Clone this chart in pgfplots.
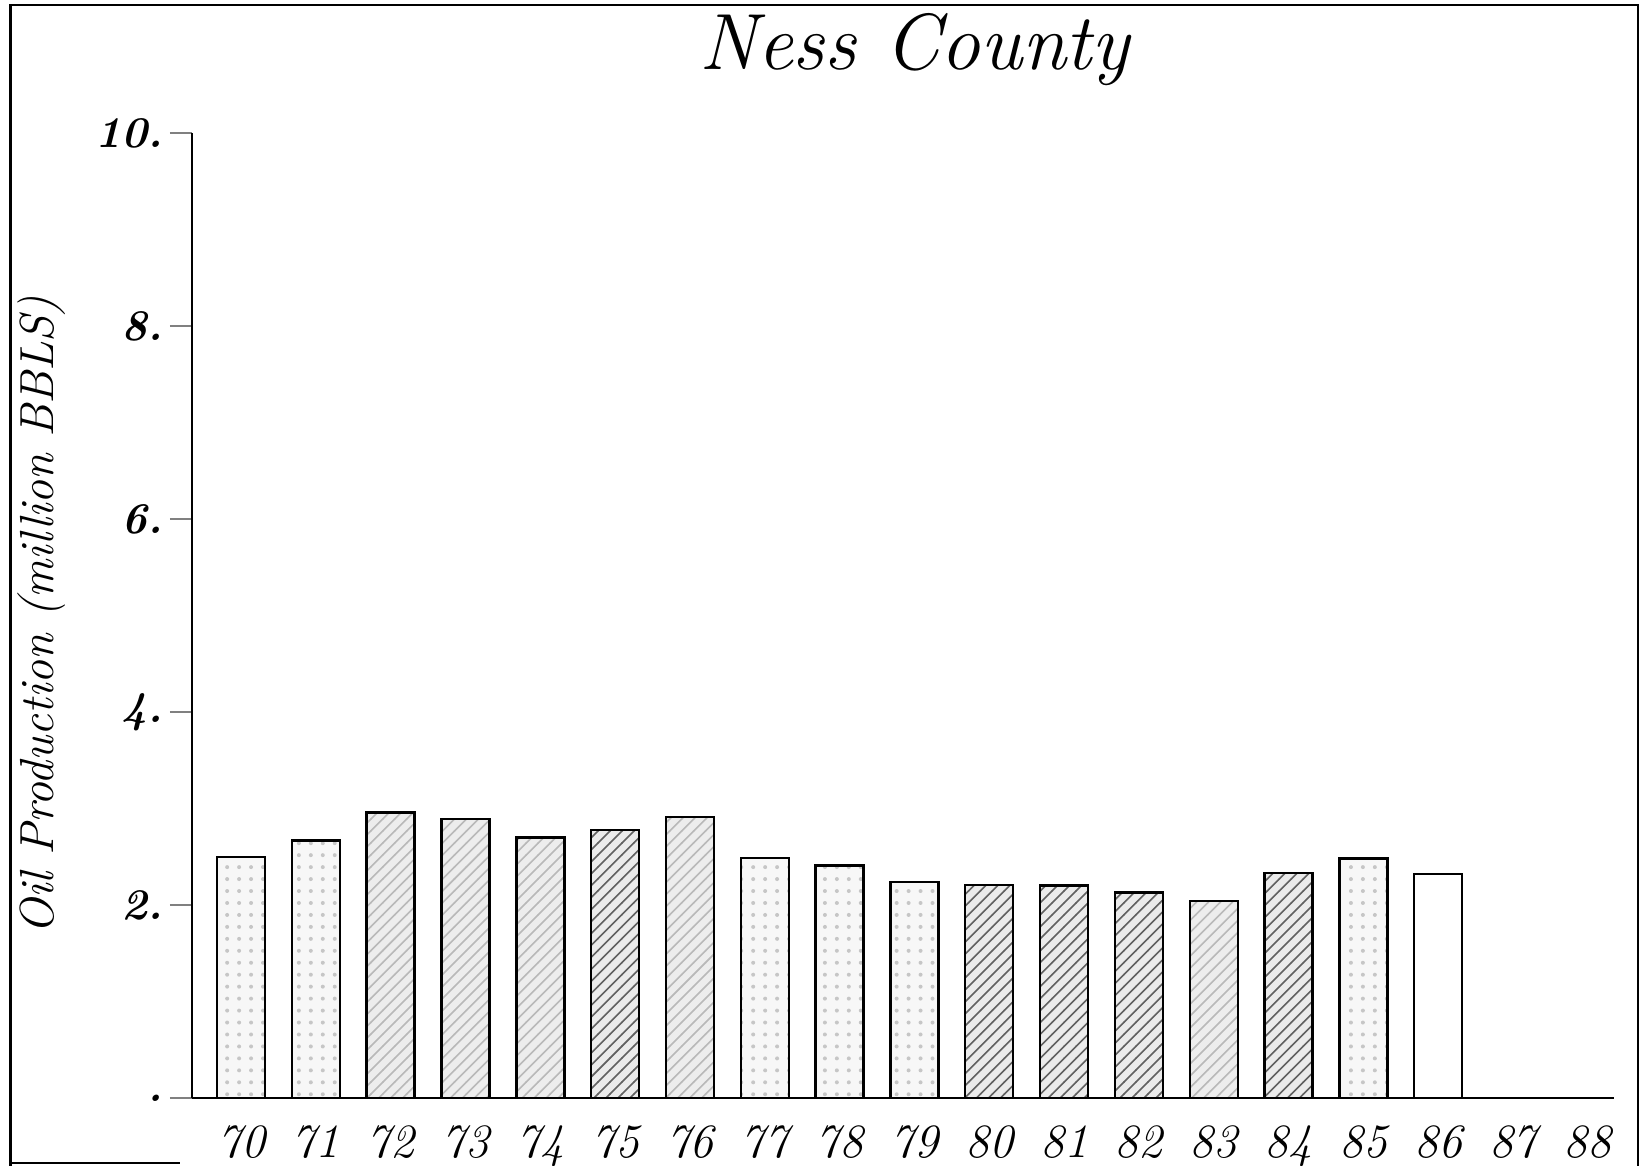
\documentclass[border=0pt]{standalone}
\usepackage{fontspec}
\usepackage{pgfplots}
\pgfplotsset{compat=1.18}
\usetikzlibrary{patterns}

\tikzset{
	barA/.style={fill=gray!6, postaction={pattern=dots, pattern color=gray!45}},
	barB/.style={fill=gray!14, postaction={pattern=north east lines, pattern color=gray!55}},
	barC/.style={fill=gray!16, postaction={pattern=north east lines, pattern color=black!62}},
}

\begin{document}
\begin{tikzpicture}[x=1bp,y=1bp]
	\useasboundingbox (0,0) rectangle (410.75,291.5);
	% page frame of the scan
	\draw[line width=0.6bp] (2.6,0) -- (2.6,290.2) -- (409.5,290.2) -- (409.5,0);
	\draw[line width=0.5bp] (2.6,0.8) -- (45,0.8);

	\begin{axis}[
			at={(48bp,17bp)},
			anchor=south west,
			width=355.5bp,
			height=241.25bp,
			scale only axis,
			axis lines*=left,
			axis line style={line width=0.6bp},
			xmin=69.345, xmax=88.35,
			ymin=0, ymax=10,
			ytick={0,2,4,6,8,10},
			yticklabels={.,2.,4.,6.,8.,10.},
			xtick={70,...,88},
			xticklabels={70,71,72,73,74,75,76,77,78,79,80,81,82,83,84,85,86,87,88},
			tick align=outside,
			major tick length=5.5bp,
			x tick style={draw=none},
			y tick style={line width=0.5bp},
			yticklabel style={font=\fontsize{11}{13}\selectfont\bfseries\itshape\addfontfeature{LetterSpace=3}, xshift=1.8bp},
			xticklabel style={font=\fontsize{12}{14}\selectfont\itshape\addfontfeature{LetterSpace=13}, yshift=2.2bp},
			ylabel={Oil Production (million BBLS)},
			ylabel style={font=\fontsize{12}{14}\selectfont\itshape\addfontfeature{LetterSpace=14}, at={(-37.5bp,120.6bp)}, anchor=center},
			title={Ness County},
			every axis title/.style={font=\fontsize{20}{24}\selectfont\itshape\addfontfeature{LetterSpace=16}, at={(0.508,1.086)}, anchor=center},
			ybar,
			bar width=12bp,
			bar shift=0pt,
			clip=false,
		]
		% light stipple
		\addplot[draw=black, line width=0.6bp, barA] coordinates {
			(70,2.50) (71,2.67) (77,2.49) (78,2.41) (79,2.24) (85,2.48)
		};
		% medium stipple with fine hatch
		\addplot[draw=black, line width=0.6bp, barB] coordinates {
			(72,2.96) (73,2.89) (74,2.70) (76,2.91) (83,2.04)
		};
		% dense hatch
		\addplot[draw=black, line width=0.6bp, barC] coordinates {
			(75,2.78) (80,2.21) (81,2.20) (82,2.13) (84,2.33)
		};
		% plain
		\addplot[draw=black, line width=0.6bp, fill=white] coordinates {
			(86,2.32)
		};
	\end{axis}
\end{tikzpicture}
\end{document}
